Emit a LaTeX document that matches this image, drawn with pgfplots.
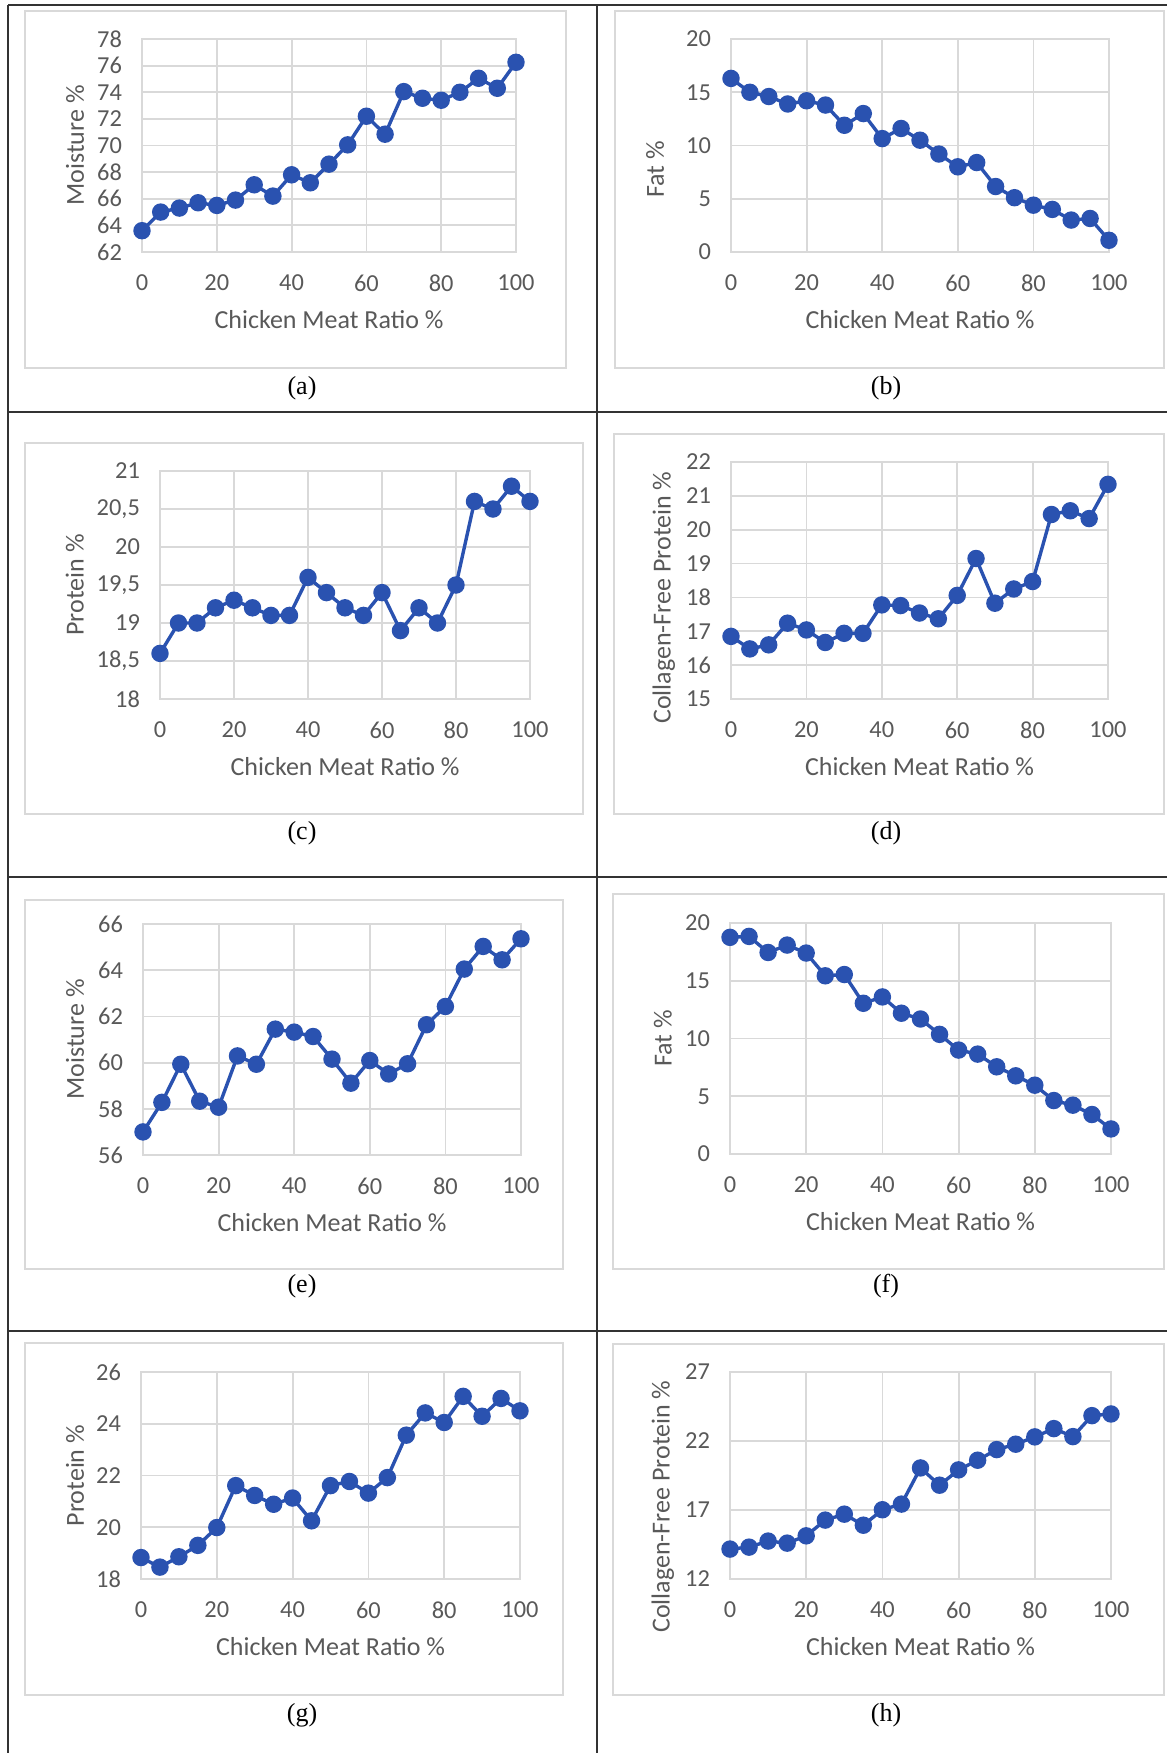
\documentclass[border=0pt]{standalone}
\usepackage{fontspec}
\setmainfont{Liberation Serif}
\newfontfamily\calibri{Carlito}
\usepackage{pgfplots}
\pgfplotsset{compat=1.18}
\definecolor{gridc}{HTML}{D9D9D9}
\definecolor{labc}{HTML}{595959}
\definecolor{linec}{RGB}{42,82,176}
\definecolor{tabc}{HTML}{333333}
\pgfplotsset{
  panel/.style={
    scale only axis,
    anchor=south west,
    clip=false,
    xmin=0, xmax=100, xtick={0,20,...,100},
    grid=major,
    major grid style={draw=gridc, line width=0.9pt},
    axis line style={draw=gridc, line width=0.9pt},
    major tick length=0pt,
    tick style={draw=none},
    /pgf/number format/assume math mode=true,
    ticklabel style={font=\calibri\fontsize{12.2}{14}\selectfont, text=labc},
    xticklabel style={yshift=-8pt},
    yticklabel style={xshift=-6.5pt},
    label style={font=\calibri\fontsize{13}{15}\selectfont, text=labc},
    xlabel={Chicken Meat Ratio \%},
    xlabel style={at={(axis description cs:0.5,0)}, anchor=center, yshift=-34pt},
  },
  yl/.style 2 args={ylabel style={at={(axis description cs:#1,#2)}, anchor=center}},
  ser/.style={color=linec, line width=1.7pt, mark=*, mark size=3.5pt, mark options={fill=linec, draw=linec}},
}
\begin{document}
\begin{tikzpicture}
\path[use as bounding box] (0,0) rectangle (583.5pt,-876.5pt);
% table lines
\draw[tabc, line width=0.75pt] (4pt,-2.5pt) -- (583.5pt,-2.5pt);
\draw[tabc, line width=0.75pt] (4pt,-2.5pt) -- (4pt,-876.5pt);
\draw[tabc, line width=0.75pt] (298.5pt,-2.5pt) -- (298.5pt,-876.5pt);
\draw[tabc, line width=0.75pt] (4pt,-206pt) -- (583.5pt,-206pt);
\draw[tabc, line width=0.75pt] (4pt,-438.5pt) -- (583.5pt,-438.5pt);
\draw[tabc, line width=0.75pt] (4pt,-665.5pt) -- (583.5pt,-665.5pt);
% chart frames
\begin{scope}[draw=gridc, line width=0.9pt]
\draw (12.5pt,-5.5pt) rectangle (283pt,-184pt);
\draw (307.5pt,-5.5pt) rectangle (582pt,-184pt);
\draw (12.5pt,-221.5pt) rectangle (291.5pt,-407pt);
\draw (307pt,-217pt) rectangle (582pt,-407pt);
\draw (12.5pt,-450pt) rectangle (281.5pt,-634.5pt);
\draw (306.5pt,-447pt) rectangle (582pt,-634.5pt);
\draw (12.5pt,-671.5pt) rectangle (281.5pt,-847.5pt);
\draw (306.5pt,-672pt) rectangle (582pt,-847.5pt);
\end{scope}
% captions
\begin{scope}[font=\fontsize{13}{15}\selectfont]
\node at (151pt,-194pt) {(a)};
\node at (443pt,-194pt) {(b)};
\node at (151pt,-416.5pt) {(c)};
\node at (443pt,-416.5pt) {(d)};
\node at (151pt,-643pt) {(e)};
\node at (443pt,-643pt) {(f)};
\node at (151pt,-857.5pt) {(g)};
\node at (443pt,-857.5pt) {(h)};
\end{scope}

% (a)
\begin{axis}[panel, at={(71pt,-126pt)}, width=187pt, height=106.5pt,
  ymin=62, ymax=78, ytick={62,64,...,78}, ylabel={Moisture \%}, yl={-0.179}{0.5}]
\addplot[ser] coordinates {(0,63.6)(5,65.0)(10,65.3)(15,65.7)(20,65.5)(25,65.9)(30,67.05)(35,66.2)(40,67.8)(45,67.2)(50,68.6)(55,70.05)(60,72.2)(65,70.85)(70,74.05)(75,73.55)(80,73.4)(85,74.0)(90,75.05)(95,74.3)(100,76.25)};
\end{axis}

% (b)
\begin{axis}[panel, at={(365.5pt,-126pt)}, width=189pt, height=106.5pt,
  ymin=0, ymax=20, ytick={0,5,...,20}, ylabel={Fat \%}, yl={-0.201}{0.387}]
\addplot[ser] coordinates {(0,16.3)(5,15.0)(10,14.6)(15,13.9)(20,14.2)(25,13.8)(30,11.9)(35,13.0)(40,10.65)(45,11.6)(50,10.5)(55,9.2)(60,8.0)(65,8.4)(70,6.15)(75,5.1)(80,4.4)(85,4.0)(90,3.0)(95,3.15)(100,1.1)};
\end{axis}

% (c)
\begin{axis}[panel, at={(80pt,-349.5pt)}, width=185pt, height=114pt,
  ymin=18, ymax=21, ytick={18,18.5,...,21}, /pgf/number format/use comma,
  ylabel={Protein \%}, yl={-0.230}{0.5}]
\addplot[ser] coordinates {(0,18.6)(5,19.0)(10,19.0)(15,19.2)(20,19.3)(25,19.2)(30,19.1)(35,19.1)(40,19.6)(45,19.4)(50,19.2)(55,19.1)(60,19.4)(65,18.9)(70,19.2)(75,19.0)(80,19.5)(85,20.6)(90,20.5)(95,20.8)(100,20.6)};
\end{axis}

% (d)
\begin{axis}[panel, at={(365.5pt,-349.5pt)}, width=188.5pt, height=118.5pt,
  ymin=15, ymax=22, ytick={15,16,...,22}, ylabel={Collagen-Free Protein \%}, yl={-0.178}{0.428}]
\addplot[ser] coordinates {(0,16.85)(5,16.48)(10,16.6)(15,17.24)(20,17.04)(25,16.67)(30,16.94)(35,16.94)(40,17.78)(45,17.76)(50,17.54)(55,17.37)(60,18.06)(65,19.15)(70,17.83)(75,18.25)(80,18.47)(85,20.45)(90,20.56)(95,20.33)(100,21.34)};
\end{axis}

% (e)
\begin{axis}[panel, at={(71.5pt,-577.5pt)}, width=189pt, height=115.5pt,
  ymin=56, ymax=66, ytick={56,58,...,66}, ylabel={Moisture \%}, yl={-0.180}{0.5}]
\addplot[ser] coordinates {(0,57.0)(5,58.28)(10,59.93)(15,58.33)(20,58.07)(25,60.29)(30,59.93)(35,61.45)(40,61.32)(45,61.13)(50,60.15)(55,59.11)(60,60.09)(65,59.51)(70,59.95)(75,61.64)(80,62.43)(85,64.05)(90,65.03)(95,64.45)(100,65.36)};
\end{axis}

% (f)
\begin{axis}[panel, at={(365pt,-577pt)}, width=190.5pt, height=115.5pt,
  ymin=0, ymax=20, ytick={0,5,...,20}, ylabel={Fat \%}, yl={-0.176}{0.5}]
\addplot[ser] coordinates {(0,18.76)(5,18.84)(10,17.45)(15,18.09)(20,17.4)(25,15.43)(30,15.54)(35,13.05)(40,13.6)(45,12.19)(50,11.69)(55,10.36)(60,9.0)(65,8.65)(70,7.55)(75,6.77)(80,5.96)(85,4.63)(90,4.23)(95,3.42)(100,2.17)};
\end{axis}

% (g)
\begin{axis}[panel, at={(70.5pt,-789.5pt)}, width=189.5pt, height=103.5pt,
  ymin=18, ymax=26, ytick={18,20,...,26}, ylabel={Protein \%}, yl={-0.174}{0.5}]
\addplot[ser] coordinates {(0,18.83)(5,18.46)(10,18.86)(15,19.3)(20,19.99)(25,21.61)(30,21.23)(35,20.89)(40,21.13)(45,20.25)(50,21.61)(55,21.77)(60,21.32)(65,21.92)(70,23.56)(75,24.42)(80,24.05)(85,25.06)(90,24.29)(95,24.98)(100,24.5)};
\end{axis}

% (h)
\begin{axis}[panel, at={(365pt,-789.5pt)}, width=190.5pt, height=103.5pt,
  ymin=12, ymax=27, ytick={12,17,22,27}, ylabel={Collagen-Free Protein \%}, yl={-0.176}{0.35}]
\addplot[ser] coordinates {(0,14.17)(5,14.31)(10,14.75)(15,14.6)(20,15.13)(25,16.27)(30,16.7)(35,15.9)(40,17.02)(45,17.43)(50,20.05)(55,18.8)(60,19.91)(65,20.61)(70,21.38)(75,21.77)(80,22.3)(85,22.9)(90,22.32)(95,23.84)(100,23.96)};
\end{axis}
\end{tikzpicture}
\end{document}
